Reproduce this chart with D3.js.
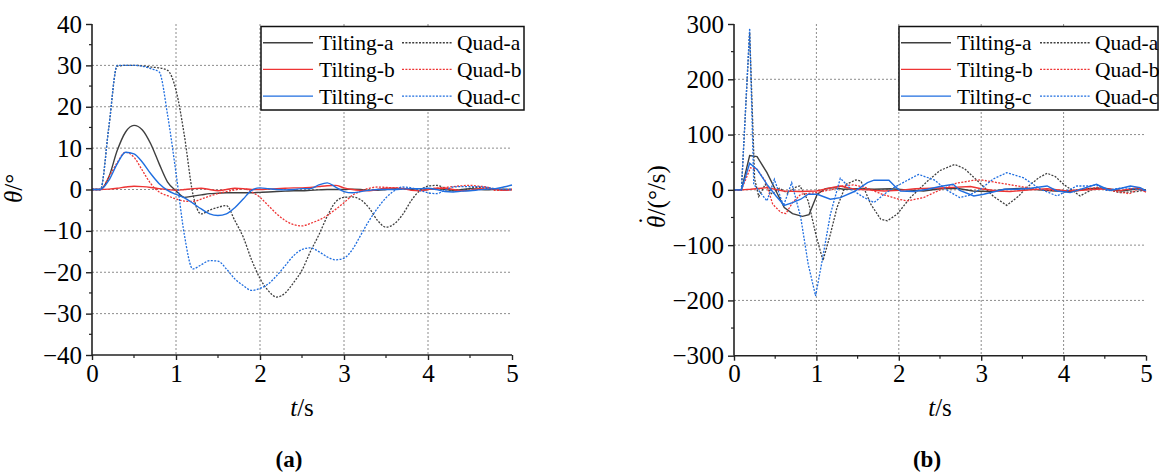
<!doctype html>
<html lang="en">
<head>
  <meta charset="utf-8">
  <title>Tilting vs Quad response</title>
  <style>
    svg text { font-family: "Liberation Serif", "Times New Roman", serif !important; fill: #000; }
  </style>
</head>
<body style="overflow: hidden; margin: 0; background: #fff;">
  <script src="https://cdnjs.cloudflare.com/ajax/libs/d3/7.8.5/d3.min.js"></script>
  <script type="text/javascript">

    // ---- data ----
    // time base for the angle panel (s)
    const angleTime = [0, 0.1, 0.2, 0.3, 0.4, 0.5, 0.6, 0.7, 0.8, 0.9, 1.0, 1.1, 1.2, 1.3, 1.4, 1.5, 1.6, 1.7, 1.8, 1.9,
      2.0, 2.1, 2.2, 2.3, 2.4, 2.5, 2.6, 2.7, 2.8, 2.9, 3.0, 3.1, 3.2, 3.3, 3.4, 3.5, 3.6, 3.7, 3.8, 3.9,
      4.0, 4.1, 4.2, 4.3, 4.4, 4.5, 4.6, 4.7, 4.8, 4.9, 5.0];

    // pitch angle (deg)
    const tiltA = [0, 0, 3, 9.4, 13.9, 15.5, 14.4, 11, 6.2, 1.8, -0.3, -1.9, -1.6, -1.3, -1.0, -0.9, -0.8, -0.8, -0.8, -0.8,
      -0.7, -0.6, -0.5, -0.4, -0.3, -0.3, -0.2, -0.1, 0, 0, 0, 0.1, 0, -0.2, -0.2, 0, 0.2, 0.2, 0, -0.2,
      0, 0.2, 0, -0.2, 0, 0.2, 0.1, -0.1, 0, 0.1, 0];
    const tiltB = [0, 0, 0.1, 0.3, 0.6, 0.8, 0.7, 0.5, 0.2, 0, -0.2, 0, 0.2, 0.3, 0, -0.3, 0, 0.3, 0.2, 0,
      0, 0.1, 0.2, 0.3, 0.4, 0.4, 0.5, 0.7, 0.9, 1.0, 0.4, 0, -0.2, -0.3, 0, 0.3, 0.4, 0.2, -0.2, -0.3,
      0, 0.3, 0.3, 0, -0.3, -0.2, 0.2, 0.4, 0.1, -0.2, 0];
    const tiltC = [0, 0, 2.2, 6.2, 9, 8.6, 6.6, 3.8, 1.4, -0.2, -1.2, -2, -3.3, -4.7, -5.9, -6.3, -5.9, -4.4, -2.3, -0.2,
      0.4, 0.2, 0, -0.1, 0, 0.2, 0.2, 1.1, 1.6, 0.6, -0.5, -0.8, -0.5, -0.2, 0, 0, 0, 0.1, 0.2, 0.2,
      0.3, 0, -0.5, -0.6, -0.4, -0.3, -0.1, 0.1, 0.2, 0.6, 1.1];
    const quadA = [0, 0, 15, 29.8, 30, 30, 29.9, 29.6, 29.4, 28.8, 24, 13, -1, -5.9, -5, -4.3, -3.9, -7.5, -11.5, -17,
      -21.5, -24.5, -26, -25, -22.5, -19.5, -15, -11, -6.5, -3, -1.9, -1.8, -2.5, -4.5, -7.5, -9.1, -8.3, -6, -2.7, -0.3,
      0.8, 1, 0.4, -0.3, -0.3, 0.3, 0.5, 0.2, 0, -0.1, 0];
    const quadB = [0, 0, 3, 6.5, 9, 7.8, 4.6, 1.4, -0.6, -1.5, -2.3, -2.8, -2.9, -2.3, -1.6, -1.0, -0.5, -0.1, 0.2, -0.6,
      -1.9, -3.9, -5.9, -7.5, -8.5, -8.8, -8.2, -7.4, -6.3, -4.8, -3.2, -1.4, -0.4, 0.3, 0.6, 0.5, 0.4, 0.3, 0.2, 0.2,
      0.2, 0.3, 0.5, 0.7, 0.9, 1.0, 0.8, 0.6, -0.2, -0.2, 0];
    const quadC = [0, 0, 15, 30, 30, 30, 29.8, 29.2, 28.4, 18, 4, -11, -19.2, -18.2, -17.2, -17.3, -19.2, -21.6, -23.2, -24.4,
      -23.9, -22.8, -20.8, -18.4, -16, -14.5, -14.1, -15, -16.3, -17, -16.6, -14.5, -11, -7.5, -4.5, -2, -0.3, 0.6, 0.4, -0.2,
      -0.8, -1, -0.2, 0.6, 0.7, 0.7, 0.7, 0.5, 0.2, 0, 0];

    // pitch rate (deg/s) as [t, value]
    const rateTiltA = [[0, 0], [0.09, 0], [0.19, 62], [0.28, 60], [0.4, 31], [0.51, -2], [0.61, -32], [0.71, -43], [0.83, -48],
      [0.91, -45], [1.01, -8], [1.11, 2], [1.21, 4], [1.33, 1], [1.5, 2], [1.7, 1], [1.9, 2], [2.1, 0], [2.3, -2], [2.5, 2],
      [2.7, 3], [2.9, -2], [3.1, -3], [3.3, 1], [3.5, 3], [3.7, 0], [3.9, -2], [4.1, -3], [4.3, 2], [4.5, 3], [4.7, -2], [4.9, 2], [5, 0]];
    const rateTiltB = [[0, 0], [0.09, 0], [0.2, 1], [0.4, 4], [0.6, -2], [0.8, -3], [1.0, -2], [1.21, 5], [1.29, 7], [1.46, 1],
      [1.62, 0], [1.82, -2], [2.0, -1], [2.2, 2], [2.4, 3], [2.6, 4], [2.87, 6], [3.0, 2], [3.2, -2], [3.35, -3], [3.6, 0],
      [3.8, 2], [4.0, -1], [4.1, -2], [4.3, 0], [4.5, 2], [4.7, -1], [4.9, 4], [5.0, -4]];
    const rateTiltC = [[0, 0], [0.09, 0], [0.19, 48], [0.28, 37], [0.4, 10], [0.51, -11], [0.61, -28], [0.71, -23], [0.81, -17],
      [0.9, -8], [1.01, -8], [1.17, -17], [1.29, -14], [1.46, -3], [1.62, 13], [1.7, 17.5], [1.88, 17.5], [1.97, 4], [2.02, -2],
      [2.18, -3], [2.35, 1], [2.5, 6], [2.66, 10], [2.74, -1], [2.91, -11], [3.03, -8], [3.28, 1], [3.44, 1], [3.6, 3], [3.8, 7],
      [3.92, -2], [4.08, -5], [4.25, 3], [4.4, 10], [4.56, -1], [4.7, 3], [4.81, 7], [4.93, 4], [5.0, -2]];
    const rateQuadA = [[0, 0], [0.09, 0], [0.19, 285], [0.25, 20], [0.3, -12], [0.38, 10], [0.46, -8], [0.55, 3], [0.65, -6],
      [0.75, 5], [0.8, 7], [0.9, -20], [1.0, -85], [1.08, -128], [1.17, -80], [1.25, -32], [1.36, 10], [1.48, 18], [1.54, 16],
      [1.66, -26], [1.78, -53], [1.86, -56], [1.98, -44], [2.14, -14], [2.35, 16], [2.5, 35], [2.68, 46], [2.8, 38], [3.0, 10],
      [3.15, -12], [3.31, -28], [3.45, -12], [3.55, 4], [3.7, 22], [3.8, 30], [3.9, 24], [4.0, 10], [4.2, -11], [4.4, 5],
      [4.55, 0], [4.68, -5], [4.89, -3], [5, 0]];
    const rateQuadB = [[0, 0], [0.09, 0], [0.2, 40], [0.28, 37], [0.38, 16], [0.47, -26], [0.57, -41], [0.63, -43], [0.71, -23],
      [0.81, -8], [1.0, -5], [1.2, 1], [1.3, 7], [1.45, 9], [1.6, 4], [1.8, -8], [2.0, -17], [2.1, -20], [2.3, -14], [2.5, 0],
      [2.7, 12], [2.9, 17], [3.0, 18], [3.2, 13], [3.4, 8], [3.6, 3], [3.8, -1], [4.0, -2], [4.2, 1], [4.4, 4], [4.6, -2],
      [4.8, -7], [4.9, 1], [5.0, -1]];
    const rateQuadC = [[0, 0], [0.09, 0], [0.19, 292], [0.24, 10], [0.4, -20], [0.49, 19], [0.6, -29], [0.7, 13], [0.81, -50],
      [0.9, -134], [0.99, -192], [1.07, -128], [1.17, -44], [1.29, 21], [1.42, 1], [1.58, -14], [1.7, -23], [1.82, -8], [1.94, 4],
      [2.1, 17], [2.24, 28], [2.43, 18], [2.6, -2], [2.74, -14], [2.85, -10], [2.99, 1], [3.15, 20], [3.31, 31], [3.51, 22],
      [3.72, 1], [3.92, -11], [4.0, -5], [4.16, 7], [4.32, 7], [4.4, 9], [4.52, -1], [4.73, 4], [4.89, 1], [5.0, -1]];

    const seriesNames = ["Tilting-a", "Quad-a", "Tilting-b", "Quad-b", "Tilting-c", "Quad-c"];
    const xTicks = [0, 1, 2, 3, 4, 5];
    const angleTicks = [-40, -30, -20, -10, 0, 10, 20, 30, 40];
    const rateTicks = [-300, -200, -100, 0, 100, 200, 300];

    // ---- drawing ----
    const colors = { a: "#3f3f3f", b: "#ee3434", c: "#1f6ee0" };

    let svg = d3.select("body").append("svg")
      .attr("width", 1159)
      .attr("height", 473)
      .attr("font-family", "Liberation Serif");

    function zip(t, v) { return t.map((d, i) => [d, v[i]]); }

    function panel(cfg) {
      let x = d3.scaleLinear().domain([0, 5]).range([cfg.left, cfg.right]);
      let y = d3.scaleLinear().domain(cfg.yDomain).range([cfg.bottom, cfg.top]);
      let g = svg.append("g");

      // grid
      let grid = g.append("g").attr("stroke", "#8c8c8c").attr("stroke-width", 1).attr("stroke-dasharray", "2,2");
      grid.selectAll(".gv").data(xTicks.slice(1, -1)).join("line")
        .attr("x1", d => x(d)).attr("x2", d => x(d))
        .attr("y1", cfg.top).attr("y2", cfg.bottom);
      grid.selectAll(".gh").data(cfg.yTicks.slice(1, -1)).join("line")
        .attr("x1", cfg.left).attr("x2", cfg.right)
        .attr("y1", d => y(d)).attr("y2", d => y(d));

      // lines
      let line = d3.line().x(d => x(d[0])).y(d => y(d[1])).curve(cfg.curve);
      cfg.series.forEach(s => {
        g.append("path")
          .datum(s.data)
          .attr("fill", "none")
          .attr("stroke", s.color)
          .attr("stroke-width", s.dotted ? 1.3 : 1.4)
          .attr("stroke-dasharray", s.dotted ? "2,1.4" : null)
          .attr("d", line);
      });

      // axes
      let minorY = d3.range(cfg.yDomain[0], cfg.yDomain[1] + 1e-9, cfg.yStep / 2).filter(v => !cfg.yTicks.includes(v));
      let yAxis = d3.axisLeft(y).tickValues(cfg.yTicks).tickSize(6).tickPadding(4)
        .tickFormat(d3.format("d"));
      let yAx = g.append("g").attr("transform", `translate(${cfg.left},0)`).call(yAxis);
      yAx.append("g").selectAll("line").data(minorY).join("line")
        .attr("x1", -3).attr("x2", 0).attr("y1", d => y(d)).attr("y2", d => y(d))
        .attr("stroke", "#222").attr("stroke-width", 1.2);

      let xAxis = d3.axisBottom(x).tickValues(xTicks).tickSize(5).tickPadding(4)
        .tickFormat(d3.format("d"));
      let xAx = g.append("g").attr("transform", `translate(0,${cfg.bottom})`).call(xAxis);
      xAx.append("g").selectAll("line").data([0.5, 1.5, 2.5, 3.5, 4.5]).join("line")
        .attr("x1", d => x(d)).attr("x2", d => x(d)).attr("y1", 0).attr("y2", 3)
        .attr("stroke", "#222").attr("stroke-width", 1.2);

      [yAx, xAx].forEach(a => {
        // drop the axis defaults (sans-serif, 10px) so the serif face is inherited
        a.attr("font-family", null).attr("font-size", 25);
        a.select(".domain").attr("stroke", "#222").attr("stroke-width", 1.6);
        a.selectAll(".tick line").attr("stroke", "#222").attr("stroke-width", 1.4);
      });
      yAx.select(".domain").attr("d", `M0,${cfg.bottom}V${cfg.top}`);
      xAx.select(".domain").attr("d", `M${cfg.left},0H${cfg.right}`);

      // axis titles
      let xt = g.append("text").attr("x", (cfg.left + cfg.right) / 2).attr("y", 416)
        .attr("text-anchor", "middle").style("font-size", "25px");
      xt.append("tspan").style("font-style", "italic").text("t");
      xt.append("tspan").text("/s");

      let yt = g.append("text")
        .attr("transform", `translate(${cfg.yTitleX},${cfg.yTitleY}) rotate(-90)`)
        .attr("text-anchor", "start").style("font-size", "25px");
      yt.append("tspan").style("font-style", "italic").text("θ");
      if (cfg.dotted) {
        yt.append("tspan").attr("dx", -9).attr("dy", -9).text("\u02D9");
        yt.append("tspan").attr("dx", 1).attr("dy", 9).text(cfg.yTitleRest);
      } else {
        yt.append("tspan").text(cfg.yTitleRest);
      }

      g.append("text").attr("x", cfg.capX).attr("y", 467).attr("text-anchor", "middle")
        .style("font-size", "23px").style("font-weight", "bold").text(cfg.caption);

      // legend
      let lg = g.append("g");
      lg.append("rect").attr("x", cfg.legX).attr("y", 26.5).attr("width", cfg.legW).attr("height", 83.5)
        .attr("fill", "#fff").attr("stroke", "#111").attr("stroke-width", 1.5);
      cfg.series.forEach((s, i) => {
        let row = Math.floor(i / 2), col = i % 2;
        let ly = 42.7 + row * 26.7;
        let sx = cfg.legX + 2 + col * 139;
        lg.append("line").attr("x1", sx).attr("x2", sx + 50).attr("y1", ly).attr("y2", ly)
          .attr("stroke", s.color).attr("stroke-width", 1.4)
          .attr("stroke-dasharray", s.dotted ? "2,1.4" : null);
        lg.append("text").attr("x", sx + (col ? 55 : 56)).attr("y", ly + 7.5)
          .style("font-size", "21.5px").text(s.name);
      });
    }

    function angleSeries() {
      const vals = [tiltA, quadA, tiltB, quadB, tiltC, quadC];
      return vals.map((v, i) => ({
        name: seriesNames[i], data: zip(angleTime, v),
        color: colors["abc"[Math.floor(i / 2)]], dotted: i % 2 === 1
      }));
    }
    function rateSeries() {
      const vals = [rateTiltA, rateQuadA, rateTiltB, rateQuadB, rateTiltC, rateQuadC];
      return vals.map((v, i) => ({
        name: seriesNames[i], data: v,
        color: colors["abc"[Math.floor(i / 2)]], dotted: i % 2 === 1
      }));
    }

    panel({
      left: 92, right: 512, top: 24, bottom: 355,
      yDomain: [-40, 40], yTicks: angleTicks, yStep: 10,
      series: angleSeries(), curve: d3.curveMonotoneX,
      yTitleX: 22, yTitleY: 203, yTitleRest: "/°", dotted: false,
      capX: 289, caption: "(a)",
      legX: 261, legW: 263
    });

    panel({
      left: 734, right: 1146, top: 24, bottom: 355.7,
      yDomain: [-300, 300], yTicks: rateTicks, yStep: 100,
      series: rateSeries(), curve: d3.curveLinear,
      yTitleX: 665, yTitleY: 228, yTitleRest: "/(°/s)", dotted: true,
      capX: 927, caption: "(b)",
      legX: 899, legW: 259
    });
  </script>
</body>
</html>
